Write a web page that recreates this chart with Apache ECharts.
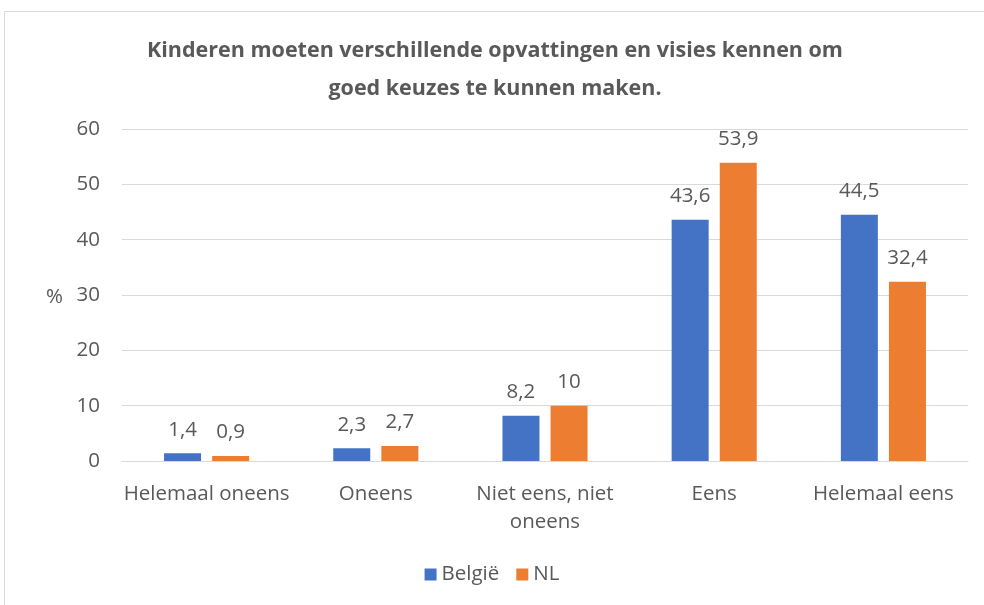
<!DOCTYPE html>
<html>
<head>
<meta charset="utf-8">
<script src="https://cdn.jsdelivr.net/npm/echarts@6/dist/echarts.min.js"></script>
<style>
  html, body { margin: 0; padding: 0; background: #fff; }
  #chart { width: 984px; height: 605px; }
</style>
</head>
<body>
<div id="chart"></div>
<script>
// data
var categories = ['Helemaal oneens', 'Oneens', 'Niet eens, niet\noneens', 'Eens', 'Helemaal eens'];
var belgie = [1.4, 2.3, 8.2, 43.6, 44.5];
var nl = [0.9, 2.7, 10, 53.9, 32.4];
var yTicks = [0, 10, 20, 30, 40, 50, 60];

var txt = '#595959';
var fnt = '"Open Sans", Lato, sans-serif';
var fs = 20.5;

var myChart = echarts.init(document.getElementById('chart'));
var labelFmt = function (p) { return String(p.value).replace('.', ','); };

var option = {
  textStyle: { fontFamily: fnt },
  title: {
    text: 'Kinderen moeten verschillende opvattingen en visies kennen om\ngoed keuzes te kunnen maken.',
    left: 490,
    textAlign: 'center',
    top: 27,
    textStyle: { fontSize: 21.5, fontWeight: 'bold', color: txt, lineHeight: 38, fontFamily: fnt }
  },
  graphic: [{
    type: 'rect',
    shape: { x: 4.5, y: 11.5, width: 990, height: 620 },
    style: { fill: 'none', stroke: '#d9d9d9', lineWidth: 1 },
    silent: true
  }, {
    type: 'text',
    left: 46, top: 287,
    style: { text: '%', fontSize: fs, fill: txt, fontFamily: fnt }
  }],
  legend: {
    data: ['België', 'NL'],
    bottom: 15,
    left: 'center',
    itemWidth: 12, itemHeight: 12,
    itemGap: 17,
    icon: 'rect',
    textStyle: { fontSize: fs, color: txt, fontFamily: fnt }
  },
  grid: { left: 122, right: 16, top: 129, bottom: 144 },
  xAxis: {
    type: 'category',
    data: categories,
    axisLine: { lineStyle: { color: '#d9d9d9', width: 1 } },
    axisTick: { show: false },
    axisLabel: { fontSize: fs, color: txt, margin: 19, lineHeight: 28, interval: 0, fontFamily: fnt }
  },
  yAxis: {
    type: 'value',
    min: yTicks[0], max: yTicks[yTicks.length - 1], interval: 10,
    axisLine: { show: false },
    axisTick: { show: false },
    splitLine: { lineStyle: { color: '#d9d9d9', width: 1 } },
    axisLabel: { fontSize: fs, color: txt, margin: 22, fontFamily: fnt }
  },
  series: [{
    name: 'België',
    type: 'bar',
    data: belgie,
    barWidth: 37,
    barGap: '30%',
    itemStyle: { color: '#4472c4' },
    label: { show: true, position: 'top', distance: 13, fontSize: fs, color: txt, formatter: labelFmt, fontFamily: fnt }
  }, {
    name: 'NL',
    type: 'bar',
    data: nl,
    barWidth: 37,
    itemStyle: { color: '#ed7d31' },
    label: { show: true, position: 'top', distance: 13, fontSize: fs, color: txt, formatter: labelFmt, fontFamily: fnt }
  }]
};

myChart.setOption(option);
</script>
</body>
</html>
